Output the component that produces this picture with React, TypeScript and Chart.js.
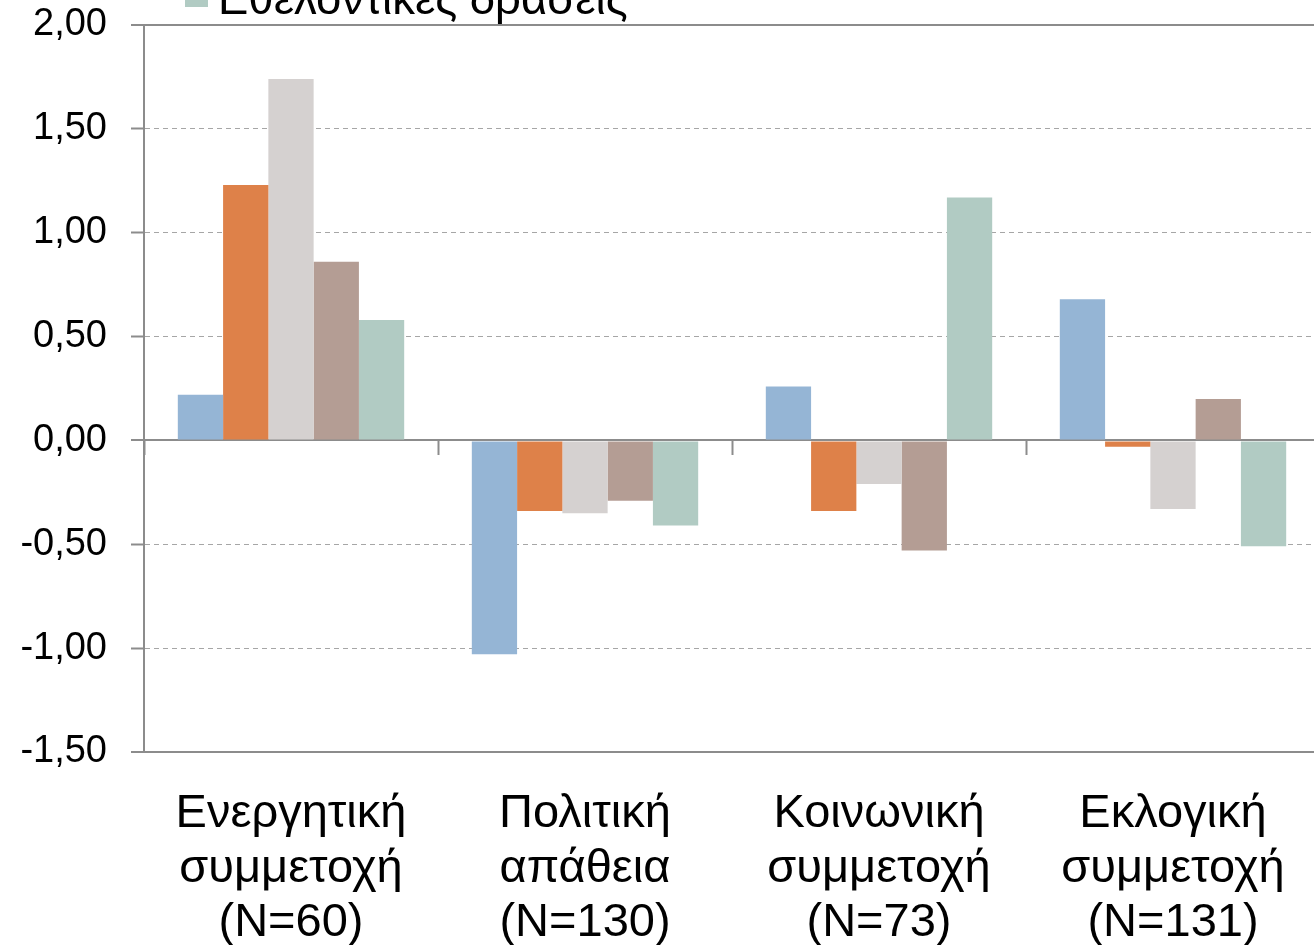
import React, { useEffect, useRef } from "react";
import { Chart, registerables } from "chart.js";

Chart.register(...registerables);

const categories: string[][] = [
  ["Ενεργητική", "συμμετοχή", "(N=60)"],
  ["Πολιτική", "απάθεια", "(N=130)"],
  ["Κοινωνική", "συμμετοχή", "(N=73)"],
  ["Εκλογική", "συμμετοχή", "(N=131)"],
];

const seriesNames = ["Σειρά 1", "Σειρά 2", "Σειρά 3", "Σειρά 4", "Εθελοντικές δράσεις"];
const seriesColors = ["#95b5d5", "#de8149", "#d5d1d0", "#b49d94", "#b1cbc3"];

const series1 = [0.22, -1.03, 0.26, 0.68];
const series2 = [1.23, -0.34, -0.34, -0.03];
const series3 = [1.74, -0.35, -0.21, -0.33];
const series4 = [0.86, -0.29, -0.53, 0.2];
const series5 = [0.58, -0.41, 1.17, -0.51];

const yMin = -1.5;
const yMax = 2;
const yStep = 0.5;

const FONT = "'Liberation Sans', Arial, sans-serif";

const legendPlugin = {
  id: "stackedLegend",
  afterDraw(chart: any) {
    const ctx = chart.ctx as CanvasRenderingContext2D;
    const ds = chart.data.datasets;
    const n = ds.length;
    ctx.save();
    ctx.font = `45.5px ${FONT}`;
    ctx.textBaseline = "alphabetic";
    ctx.textAlign = "left";
    ds.forEach((d: any, i: number) => {
      const baseline = 14 - (n - 1 - i) * 52;
      ctx.fillStyle = d.backgroundColor;
      ctx.fillRect(185, baseline - 30, 23, 23);
      ctx.fillStyle = "#000";
      ctx.fillText(d.label, 218, baseline);
    });
    ctx.restore();
  },
};

export default function App() {
  const ref = useRef<HTMLCanvasElement>(null);

  useEffect(() => {
    document.body.style.margin = "0";
    const values = [series1, series2, series3, series4, series5];
    const chart = new Chart(ref.current!, {
      type: "bar",
      data: {
        labels: categories,
        datasets: values.map((v, i) => ({
          label: seriesNames[i],
          data: v,
          backgroundColor: seriesColors[i],
          borderWidth: 0,
          categoryPercentage: 0.77,
          barPercentage: 1.0,
          xAxisID: "x",
          yAxisID: "y",
        })),
      },
      options: {
        animation: false,
        responsive: false,
        maintainAspectRatio: false,
        layout: { padding: { top: 25, right: 10, left: 0, bottom: 0 } },
        plugins: {
          legend: { display: false },
          tooltip: { enabled: false },
        },
        scales: {
          x: {
            type: "category",
            position: "bottom",
            offset: true,
            grid: { display: false, offset: true },
            border: { display: false },
            ticks: {
              color: "#000",
              font: { family: FONT, size: 47, lineHeight: 1.16 },
              padding: 27,
              maxRotation: 0,
              autoSkip: false,
            },
            afterFit: (s: any) => {
              s.height = 193;
            },
          },
          x2: {
            type: "category",
            position: { y: 0 } as any,
            offset: true,
            z: 1,
            grid: {
              offset: true,
              drawOnChartArea: false,
              drawTicks: true,
              tickLength: 14,
              tickWidth: 2,
              tickColor: "#8c8c8c",
            },
            border: { display: true, color: "#8c8c8c", width: 2 },
            ticks: { display: false },
            afterFit: (s: any) => {
              s.height = 0;
            },
          },
          y: {
            min: yMin,
            max: yMax,
            ticks: {
              stepSize: yStep,
              color: "#000",
              font: { family: FONT, size: 38 },
              padding: 24,
              callback: (v: any) => Number(v).toFixed(2).replace(".", ","),
            },
            grid: {
              color: (c: any) => {
                const v = c.tick ? c.tick.value : 0;
                return v === yMax || v === yMin || v === 0 ? "#8c8c8c" : "#a6a6a6";
              },
              lineWidth: (c: any) => {
                const v = c.tick ? c.tick.value : 0;
                return v === yMax || v === yMin || v === 0 ? 2 : 1;
              },
              drawTicks: true,
              tickLength: 13,
              tickWidth: 2,
              tickColor: "#8c8c8c",
            },
            border: {
              display: true,
              color: "#8c8c8c",
              width: 2,
              dash: (c: any) => {
                if (!c.tick) return [];
                const v = c.tick.value;
                return v === yMax || v === yMin || v === 0 ? [] : [5, 4];
              },
            } as any,
            afterFit: (s: any) => {
              s.width = 144;
              s.paddingTop = 0;
              s.paddingBottom = 0;
            },
          },
        },
      },
      plugins: [legendPlugin],
    });
    return () => chart.destroy();
  }, []);

  return (
    <div
      style={{
        position: "fixed",
        left: 0,
        top: 0,
        width: 1314,
        height: 945,
        overflow: "hidden",
        background: "#fff",
      }}
    >
      <canvas ref={ref} width={1330} height={945} style={{ display: "block", width: 1330, height: 945 }} />
    </div>
  );
}
